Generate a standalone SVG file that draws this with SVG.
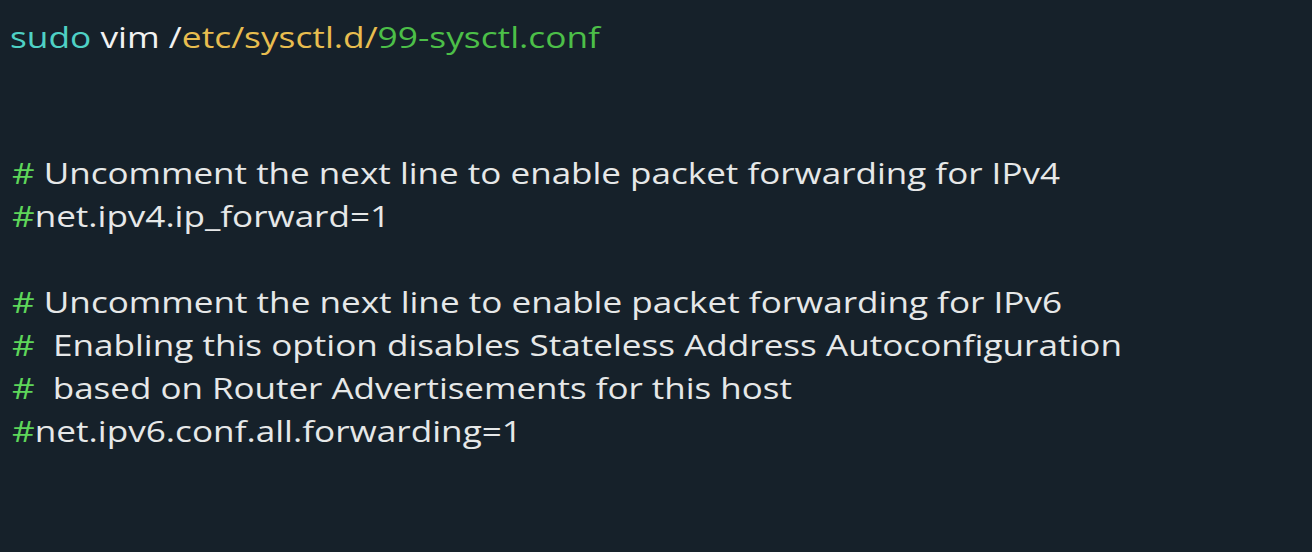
<svg xmlns="http://www.w3.org/2000/svg" width="1312" height="552" viewBox="0 0 1312 552">
<style>
text{font-family:"Open Sans","Noto Sans","DejaVu Sans",sans-serif;font-size:30px;font-weight:500;fill:#e6e8e8;white-space:pre}
.h{fill:#5ed65a}
.teal{fill:#4fd1c5}
.w{fill:#f2f2f2}
.y{fill:#e8bd4f}
.g{fill:#4cbf48}
</style>
<rect width="1312" height="552" fill="#16212a"/>
<g id="command">
<text x="10" y="48" textLength="590" lengthAdjust="spacingAndGlyphs" xml:space="preserve"><tspan class="teal">sudo</tspan> <tspan class="w">vim</tspan> <tspan class="w">/</tspan><tspan class="y">etc/sysctl.d/</tspan><tspan class="g">99-sysctl.conf</tspan></text>
</g>
<g id="config">
<text x="12" y="184" textLength="1048" lengthAdjust="spacingAndGlyphs" xml:space="preserve"><tspan class="h">#</tspan> Uncomment the next line to enable packet forwarding for IPv4</text>
<text x="12" y="227" textLength="378" lengthAdjust="spacingAndGlyphs" xml:space="preserve"><tspan class="h">#</tspan>net.ipv4.ip_forward=1</text>
<text x="12" y="313" textLength="1050" lengthAdjust="spacingAndGlyphs" xml:space="preserve"><tspan class="h">#</tspan> Uncomment the next line to enable packet forwarding for IPv6</text>
<text x="12" y="356" textLength="1110" lengthAdjust="spacingAndGlyphs" xml:space="preserve"><tspan class="h">#</tspan>  Enabling this option disables Stateless Address Autoconfiguration</text>
<text x="12" y="399" textLength="780" lengthAdjust="spacingAndGlyphs" xml:space="preserve"><tspan class="h">#</tspan>  based on Router Advertisements for this host</text>
<text x="12" y="442" textLength="510" lengthAdjust="spacingAndGlyphs" xml:space="preserve"><tspan class="h">#</tspan>net.ipv6.conf.all.forwarding=1</text>
</g>
</svg>
